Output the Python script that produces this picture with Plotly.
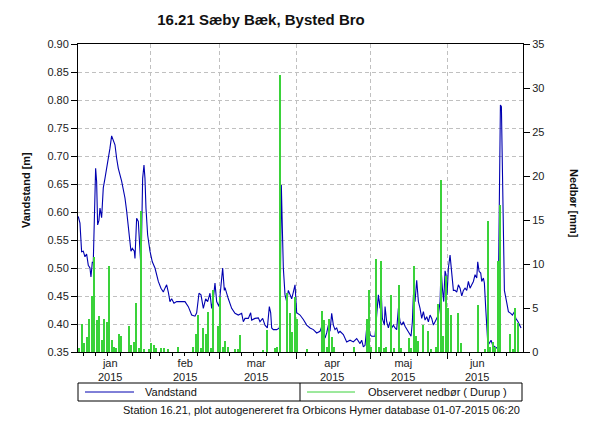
import pandas as pd
import plotly.graph_objects as go

START = pd.Timestamp("2015-01-01")

# Vandstand [m] -- time as days since 2015-01-01
level_days = [2.03, 2.71, 3.38, 4.05, 4.73, 5.40, 6.07, 6.75, 7.15, 7.69, 8.09, 8.77, 9.04, 9.44, 9.85,
              10.38, 10.79, 11.46, 12.13, 12.81, 13.48, 14.15, 14.83, 15.5, 16.17, 16.85, 17.52, 18.19,
              19.54, 20.89, 21.56, 22.24, 22.91, 23.31, 23.85, 24.66, 24.93, 25.6, 26.28, 26.95, 27.35,
              27.62, 28.03, 28.57, 28.97, 29.37, 30.05, 30.99, 31.93, 33.01, 34.36, 35.43, 36.38, 37.05,
              37.72, 38.4, 39.07, 39.74, 40.69, 41.76, 43.11, 45.13, 46.48, 47.83, 49.17, 49.85, 50.79,
              51.6, 52.54, 53.48, 54.29, 55.23, 55.91, 56.58, 57.25, 57.93, 58.87, 59.68, 60.35, 61.02,
              61.29, 62.64, 63.99, 65.33, 66.68, 68.03, 68.7, 69.37, 70.72, 71.66, 72.07, 73.41, 74.76,
              75.43, 76.51, 77.45, 78.4, 79.2, 79.75, 80.15, 80.82, 82.17, 83.24, 83.52, 84.05, 84.59,
              84.86, 85.54, 86.21, 86.88, 87.56, 88.23, 88.9, 89.58, 90.25, 91.6, 92.94, 94.29, 95.64,
              96.98, 98.33, 99.68, 100.35, 101.02, 101.7, 102.37, 103.04, 103.72, 104.39, 105.06, 105.74,
              106.41, 107.08, 107.76, 109.1, 110.45, 111.8, 113.14, 114.49, 115.84, 116.51, 117.18,
              117.86, 118.53, 119.2, 119.88, 120.55, 121.9, 122.57, 123.24, 123.92, 124.32, 124.86,
              125.67, 125.94, 126.61, 127.29, 127.96, 128.63, 129.31, 129.98, 130.65, 131.33, 132.0,
              132.67, 133.35, 134.02, 135.37, 136.44, 136.98, 137.39, 138.06, 138.73, 139.41, 140.08,
              140.75, 141.43, 142.1, 142.77, 143.45, 144.12, 144.8, 145.47, 146.14, 146.82, 147.49,
              148.16, 148.57, 149.1, 149.64, 150.18, 150.59, 150.99, 151.53, 152.2, 152.6, 153.14,
              153.55, 154.22, 154.9, 155.57, 156.24, 156.92, 157.59, 158.26, 158.94, 159.61, 160.28,
              160.96, 161.63, 162.3, 162.98, 163.38, 163.92, 164.59, 165.0, 165.67, 166.07, 166.61,
              167.02, 167.42, 167.96, 168.77, 169.44, 170.38, 171.06, 171.46, 171.73, 172.13, 172.54,
              172.94, 173.21, 173.62, 174.15, 175.1, 175.77, 176.71, 177.39, 178.2, 178.74, 179.54,
              180.48, 180.89]
level_m = [0.592, 0.58, 0.529, 0.53, 0.52, 0.525, 0.505, 0.50, 0.484, 0.51, 0.51, 0.675, 0.678, 0.654, 0.577,
           0.585, 0.607, 0.59, 0.643, 0.66, 0.678, 0.69, 0.714, 0.736, 0.728, 0.72, 0.696, 0.678,
           0.655, 0.625, 0.602, 0.571, 0.547, 0.53, 0.535, 0.53, 0.517, 0.589, 0.583, 0.536, 0.50,
           0.56, 0.66, 0.684, 0.66, 0.607, 0.559, 0.53, 0.511, 0.50, 0.476, 0.464, 0.457, 0.464,
           0.47, 0.457, 0.44, 0.445, 0.437, 0.44, 0.44, 0.44, 0.431, 0.416, 0.414, 0.42, 0.455,
           0.452, 0.428, 0.445, 0.44, 0.455, 0.428, 0.445, 0.473, 0.44, 0.431, 0.464, 0.50, 0.46,
           0.465, 0.445, 0.428, 0.419, 0.416, 0.419, 0.404, 0.41, 0.41, 0.42, 0.407, 0.41, 0.411,
           0.404, 0.41, 0.398, 0.393, 0.431, 0.42, 0.393, 0.39, 0.39, 0.393, 0.404, 0.648, 0.547,
           0.50, 0.452, 0.44, 0.46, 0.452, 0.445, 0.457, 0.47, 0.42, 0.416, 0.408, 0.398, 0.393,
           0.39, 0.384, 0.387, 0.395, 0.381, 0.375, 0.384, 0.398, 0.387, 0.419, 0.398, 0.39,
           0.393, 0.384, 0.387, 0.381, 0.368, 0.371, 0.368, 0.374, 0.365, 0.371, 0.359,
           0.362, 0.393, 0.398, 0.381, 0.378, 0.378, 0.416, 0.452, 0.428, 0.465, 0.41,
           0.398, 0.431, 0.404, 0.393, 0.404, 0.393, 0.398, 0.393, 0.39, 0.428, 0.404,
           0.398, 0.404, 0.396, 0.387, 0.378, 0.404, 0.452, 0.44, 0.478, 0.44, 0.428,
           0.41, 0.422, 0.407, 0.413, 0.404, 0.416, 0.41, 0.398, 0.404, 0.41, 0.416,
           0.44, 0.50, 0.464, 0.44, 0.495, 0.488, 0.452, 0.50, 0.523, 0.50, 0.476,
           0.46, 0.46, 0.457, 0.47, 0.464, 0.45, 0.46, 0.464, 0.46, 0.476, 0.464,
           0.47, 0.476, 0.488, 0.482, 0.511, 0.494, 0.491, 0.476, 0.482, 0.473, 0.428,
           0.398, 0.368, 0.365, 0.371, 0.362, 0.359, 0.357, 0.359, 0.50, 0.702, 0.791,
           0.788, 0.726, 0.63, 0.46, 0.438, 0.422, 0.419, 0.416, 0.422, 0.41, 0.405,
           0.398, 0.393]

# Observeret nedbør (Durup) [mm] -- day index since 2015-01-01 (daily sums)
rain_days = [2, 3, 4, 5, 6, 7, 8, 9, 10, 11, 12, 13, 14, 15, 16, 17, 18, 19, 22, 23, 24, 25, 26, 27, 28,
             30, 31, 32, 33, 35, 36, 38, 42, 48, 49, 50, 51, 52, 53, 54, 55, 56, 58, 59, 60, 61, 62,
             65, 66, 67, 76, 78, 81, 82, 83, 86, 87, 88, 89, 90, 94, 100, 101, 102, 103, 104, 105,
             113, 118, 119, 120, 122, 123, 124, 125, 126, 128, 129, 131, 132, 135, 136, 137, 138,
             139, 141, 143, 144, 146, 147, 148, 149, 150, 151, 152, 155, 156, 163, 166, 167, 168,
             169, 170, 171, 172, 176, 177, 178, 179]
rain_mm = [0.4, 3.2, 1.0, 1.7, 3.8, 6.4, 10.8, 3.6, 4.1, 1.4, 3.8, 3.4, 9.8, 1.4, 0.6, 0.5, 2.1, 1.8, 3.0, 0.8,
           1.1, 5.6, 0.4, 16.0, 0.3, 0.3, 1.0, 0.8, 0.4, 0.4, 0.5, 0.3, 0.6, 0.6, 2.1, 4.2, 0.4, 2.7,
           2.1, 4.6, 0.4, 7.0, 3.0, 6.3, 0.6, 1.3, 0.6, 0.3, 0.3, 1.9, 0.2, 2.5, 0.4, 0.6, 31.5, 6.7,
           4.4, 2.3, 6.3, 3.8, 0.3, 4.7, 3.6, 0.6, 3.8, 1.7, 0.6, 0.6, 3.7, 7.1, 0.6, 10.6, 0.6,
           10.3, 0.4, 0.6, 6.5, 0.4, 7.6, 0.4, 1.6, 0.4, 9.8, 1.8, 1.2, 3.1, 2.4, 0.3, 0.6, 5.5,
           19.5, 1.8, 8.6, 5.0, 4.2, 4.4, 1.0, 5.3, 0.3, 14.9, 0.6, 1.1, 0.6, 10.3, 16.7, 2.1, 0.3,
           5.0, 3.3]

# Axis ticks / labels
x_range = ["2015-01-02 22:00", "2015-07-01 16:00"]
month_starts = ["2015-02-01", "2015-03-01", "2015-04-01", "2015-05-01", "2015-06-01"]
minor_dates = [f"2015-{m:02d}-{d:02d}" for m in range(1, 7) for d in (5, 10, 15, 20, 25)]
month_label_pos = ["2015-01-15 20:00", "2015-02-15", "2015-03-16", "2015-04-15 12:00",
                   "2015-05-14 08:00", "2015-06-13"]
month_labels = ["jan<br>2015", "feb<br>2015", "mar<br>2015", "apr<br>2015", "maj<br>2015", "jun<br>2015"]
level_ticks = [0.35, 0.40, 0.45, 0.50, 0.55, 0.60, 0.65, 0.70, 0.75, 0.80, 0.85, 0.90]
rain_ticks = [0, 5, 10, 15, 20, 25, 30, 35]

level_dates = START + pd.to_timedelta(level_days, unit="D")
rain_dates = START + pd.to_timedelta(rain_days, unit="D")

FONT = "Liberation Sans, Arial, sans-serif"
BLUE = "#0000b0"
GREEN = "#3ad23a"
GRID = "#c0c0c0"

# plot-area geometry in px (for paper-coordinate conversions)
PL, PR, PT, PB = 78, 523, 44, 352
def px_x(px):
    return (px - PL) / (PR - PL)
def px_y(py):
    return (PB - py) / (PB - PT)

fig = go.Figure()
fig.add_trace(go.Scatter(x=level_dates, y=level_m, mode="lines", name="Vandstand",
                         line=dict(color=BLUE, width=1.1), yaxis="y"))
fig.add_trace(go.Bar(x=rain_dates, y=rain_mm, name="Observeret nedbør ( Durup )", yaxis="y2",
                     marker=dict(color=GREEN, line=dict(width=0)),
                     width=0.5 * 86400000, xperiod=86400000, xperiodalignment="middle"))

fig.update_layout(
    width=600, height=425,
    margin=dict(l=PL, r=600 - PR, t=PT, b=425 - PB),
    paper_bgcolor="white", plot_bgcolor="white",
    showlegend=False,
    font=dict(family=FONT, size=11, color="#222"),
    title=dict(text="<b>16.21 Sæby Bæk, Bysted Bro</b>", x=261 / 600, xanchor="center",
               y=1 - 20 / 425, yanchor="middle", font=dict(family=FONT, size=15, color="#111")),
    xaxis=dict(type="date", range=x_range, tickmode="array", tickvals=month_starts,
               ticktext=[""] * len(month_starts), ticks="outside", ticklen=6, tickcolor="black",
               showgrid=True, gridcolor=GRID, griddash="4px,3px", gridwidth=1,
               showline=True, linecolor="black", linewidth=1, mirror=True, zeroline=False,
               minor=dict(tickmode="array", tickvals=minor_dates, ticks="outside", ticklen=3,
                          tickcolor="black", showgrid=False)),
    yaxis=dict(range=[0.35, 0.90], tickmode="array", tickvals=level_ticks, tickformat=".2f",
               ticks="outside", ticklen=6, tickcolor="black", showline=True, linecolor="black",
               showgrid=True, gridcolor=GRID, griddash="4px,3px", zeroline=False),
    yaxis2=dict(range=[0, 35], overlaying="y", side="right", anchor="x", tickmode="array",
                tickvals=rain_ticks, ticks="outside", ticklen=6, tickcolor="black",
                showline=True, linecolor="black", showgrid=False, zeroline=False),
    bargap=0,
)

ann = []
for pos, lab in zip(month_label_pos, month_labels):
    ann.append(dict(x=pos, xref="x", y=px_y(355), yref="paper", text=lab, showarrow=False,
                    xanchor="center", yanchor="top", font=dict(size=11, color="#222")))
ann.append(dict(x=px_x(18), y=px_y(190), xref="paper", yref="paper", text="<b>Vandstand [m]</b>",
                textangle=-90, showarrow=False, font=dict(size=11, color="#111")))
ann.append(dict(x=px_x(582), y=px_y(203), xref="paper", yref="paper", text="<b>Nedbør [mm]</b>",
                textangle=90, showarrow=False, font=dict(size=11, color="#111")))
ann.append(dict(x=px_x(143), y=px_y(392), xref="paper", yref="paper", text="Vandstand",
                xanchor="left", yanchor="middle", showarrow=False, font=dict(size=11, color="#111")))
ann.append(dict(x=px_x(366), y=px_y(392), xref="paper", yref="paper", text="Observeret nedbør ( Durup )",
                xanchor="left", yanchor="middle", showarrow=False, font=dict(size=11, color="#111")))
ann.append(dict(x=px_x(522), y=px_y(410), xref="paper", yref="paper",
                text="Station 16.21, plot autogenereret fra Orbicons Hymer database 01-07-2015 06:20",
                xanchor="right", yanchor="middle", showarrow=False, font=dict(size=11, color="#111")))
fig.update_layout(annotations=ann)

shapes = [
    dict(type="rect", xref="paper", yref="paper", x0=px_x(78), x1=px_x(522), y0=px_y(383), y1=px_y(401),
         line=dict(color="black", width=1), fillcolor="rgba(0,0,0,0)"),
    dict(type="line", xref="paper", yref="paper", x0=px_x(300), x1=px_x(300), y0=px_y(383), y1=px_y(401),
         line=dict(color="black", width=1)),
    dict(type="line", xref="paper", yref="paper", x0=px_x(85), x1=px_x(134), y0=px_y(392), y1=px_y(392),
         line=dict(color=BLUE, width=1)),
    dict(type="line", xref="paper", yref="paper", x0=px_x(307), x1=px_x(355), y0=px_y(392), y1=px_y(392),
         line=dict(color=GREEN, width=1)),
]
fig.update_layout(shapes=shapes)

fig.write_html("out.html")
